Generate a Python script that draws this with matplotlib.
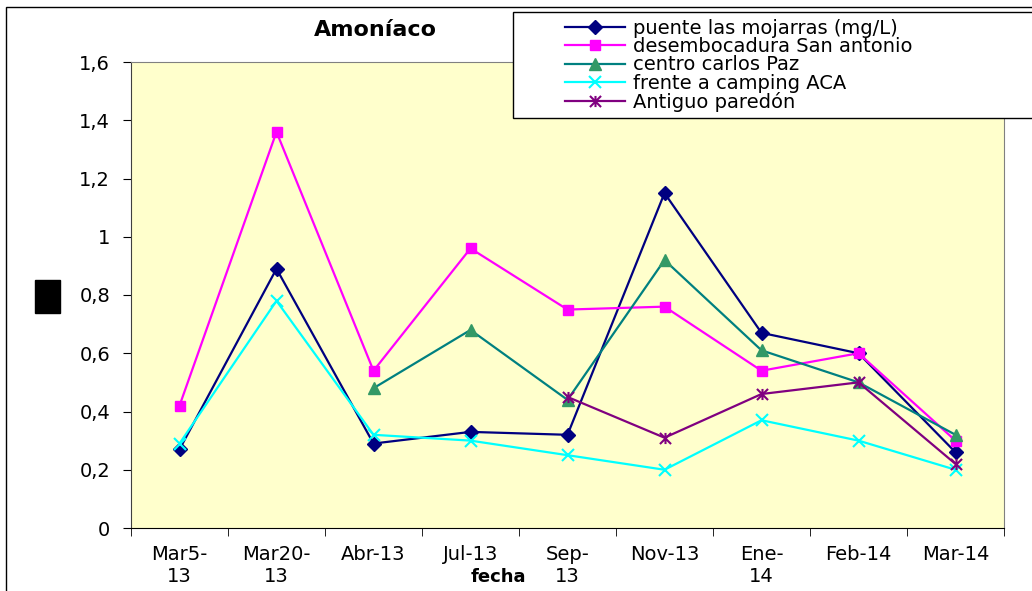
import numpy as np
from matplotlib import pyplot as plt
from matplotlib import patches
from matplotlib.path import Path

plt.rcParams['font.family'] = ['DejaVu Sans']

fechas = ['Mar5-\n13', 'Mar20-\n13', 'Abr-13', 'Jul-13', 'Sep-\n13',
          'Nov-13', 'Ene-\n14', 'Feb-14', 'Mar-14']
nan = np.nan
puente = [0.27, 0.89, 0.29, 0.33, 0.32, 1.15, 0.67, 0.60, 0.26]
desembocadura = [0.42, 1.36, 0.54, 0.96, 0.75, 0.76, 0.54, 0.60, 0.30]
centro = [nan, nan, 0.48, 0.68, 0.44, 0.92, 0.61, 0.50, 0.32]
frente = [0.29, 0.78, 0.32, 0.30, 0.25, 0.20, 0.37, 0.30, 0.20]
antiguo = [nan, nan, nan, nan, 0.45, 0.31, 0.46, 0.50, 0.22]
nombres = ['puente las mojarras (mg/L)', 'desembocadura San antonio',
           'centro carlos Paz', 'frente a camping ACA', 'Antiguo paredón']
y_ticks = [0, 0.2, 0.4, 0.6, 0.8, 1, 1.2, 1.4, 1.6]
y_labels = ['0', '0,2', '0,4', '0,6', '0,8', '1', '1,2', '1,4', '1,6']

# excel style asterisk: vertical bar + x
asterisco = Path([(0, -1), (0, 1), (-1, -1), (1, 1), (-1, 1), (1, -1)],
                 [Path.MOVETO, Path.LINETO, Path.MOVETO, Path.LINETO,
                  Path.MOVETO, Path.LINETO])

estilos = [
    dict(color='#000080', marker='D', markersize=7.5),
    dict(color='#FF00FF', marker='s', markersize=7.5),
    dict(color='#008080', marker='^', markersize=9, markerfacecolor='#339966',
         markeredgecolor='#339966'),
    dict(color='#00FFFF', marker='x', markersize=8.5, markeredgewidth=1.5),
    dict(color='#800080', marker=asterisco, markersize=8, markeredgewidth=1.5),
]

W, H = 1032, 591
fig = plt.figure(figsize=(W / 100, H / 100), dpi=100)
ax = fig.add_axes([131 / W, (H - 528) / H, (1004 - 131) / W, (528 - 62) / H])
ax.set_facecolor('#FFFFCC')

x = np.arange(len(fechas))
lineas = []
for serie, nombre, est in zip([puente, desembocadura, centro, frente, antiguo], nombres, estilos):
    l, = ax.plot(x, serie, linewidth=1.6, label=nombre, **est)
    lineas.append(l)

ax.set_xlim(-0.5, len(fechas) - 0.5)
ax.set_ylim(0, 1.6)
ax.set_yticks(y_ticks)
ax.set_yticklabels(y_labels)
ax.set_xticks(x)
ax.set_xticklabels(fechas, linespacing=1.25)
ax.set_xticks(np.arange(len(fechas) + 1) - 0.5, minor=True)
ax.tick_params(axis='x', which='major', length=0, pad=12, labelsize=14)
ax.tick_params(axis='x', which='minor', length=6, direction='out', color='black')
ax.tick_params(axis='y', length=6, pad=9, labelsize=14, color='black')
for s in ['top', 'right']:
    ax.spines[s].set_color('#808080')
ax.spines['left'].set_color('#404040')
ax.spines['bottom'].set_color('black')

fig.text(375 / W, 1 - 30 / H, 'Amoníaco', fontsize=16, fontweight='bold',
         ha='center', va='center')
fig.text(498 / W, 1 - 577 / H, 'fecha', fontsize=13, fontweight='bold',
         ha='center', va='center')

# black box where the y axis title was
fig.add_artist(patches.Rectangle((35 / W, 1 - 313 / H), 25 / W, 33 / H,
                                 transform=fig.transFigure, color='black'))

# outer chart border (cut at right and bottom)
fig.add_artist(patches.Rectangle((6 / W, -0.1), 1.2, 1.1 - 7 / H, transform=fig.transFigure,
                                 fill=False, edgecolor='black', linewidth=1))

# legend box
fig.add_artist(patches.Rectangle((513 / W, 1 - 118 / H), (1045 - 513) / W, (118 - 12) / H,
                                 transform=fig.transFigure, facecolor='white',
                                 edgecolor='black', linewidth=1, zorder=5))
leg = fig.legend(lineas, nombres, loc='upper left', bbox_to_anchor=(565 / W, 1 - 19 / H),
                 bbox_transform=fig.transFigure, frameon=False, fontsize=14,
                 borderpad=0, borderaxespad=0, handlelength=3.1, handletextpad=0.4,
                 labelspacing=-0.04)
leg.set_zorder(6)

fig.savefig('out.png', dpi=100)
